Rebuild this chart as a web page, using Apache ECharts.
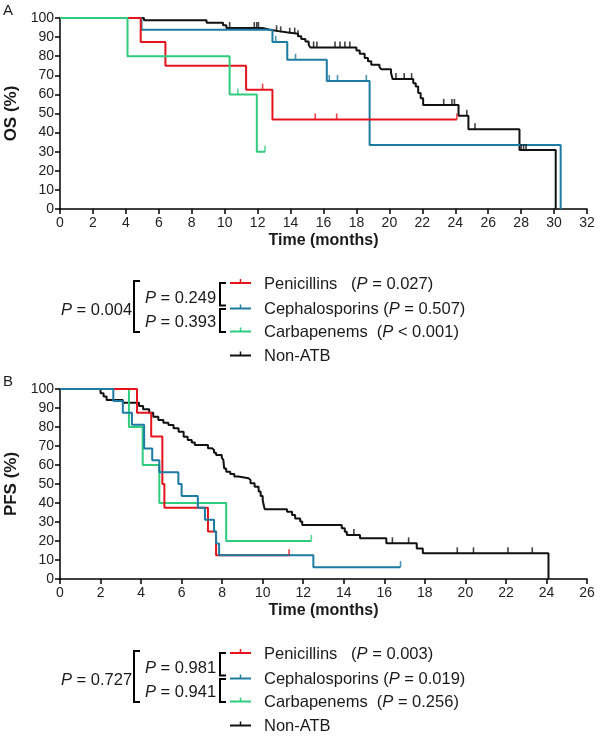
<!DOCTYPE html>
<html><head><meta charset="utf-8">
<script src="https://cdn.jsdelivr.net/npm/echarts@6/dist/echarts.min.js"></script>
<style>html,body{margin:0;padding:0;background:#fff}#c{width:600px;height:737px}</style>
</head><body><div id="c"></div>
<script>
// ---------- DATA ----------
const groups = ['Penicillins', 'Cephalosporins', 'Carbapenems', 'Non-ATB'];

// OS (panel A): [time (months), survival %] step points
const osPenicillins = [[0,100],[4.9,87.5],[6.4,75],[11.3,62.5],[12.9,46.9],[24.1,46.9]];
const osCephalosporins = [[0,100],[4.95,93.8],[12.9,87.5],[13.8,78.1],[16.2,67.0],[18.8,33.5],[30.4,0]];
const osCarbapenems = [[0,100],[4.1,80],[10.3,60],[11.95,30],[12.45,30]];
const osNonATB = [[0,100],[5.1,98.8],[8.9,97.5],[9.9,96.2],[10.1,94.8],[12.3,93.9],[12.75,93.0],[13.35,92.5],[13.75,91.8],[14.45,90.4],[14.65,89.0],[14.9,87.7],[15.1,86.0],[15.2,84.6],[18.0,83.0],[18.2,81.3],[18.5,79.0],[18.7,77.3],[18.9,75.5],[19.4,74.3],[19.5,73.2],[20.1,71.2],[20.2,68.0],[21.45,65.9],[21.6,64.1],[21.75,60.7],[21.9,58.0],[22.05,54.5],[24.2,48.8],[24.8,41.8],[27.9,30.9],[30.1,0]];
// censored times
const osPenicillinsCens = [12.3, 15.5, 16.8, 24.1];
const osCephalosporinsCens = [13.1, 14.3, 16.35, 16.85, 18.6];
const osCarbapenemsCens = [10.8, 12.45];
const osNonATBCens = [10.3, 11.8, 11.95, 12.05, 13.15, 13.4, 13.95, 14.25, 14.45, 15.4, 15.6, 16.7, 17.0, 17.3, 17.6, 20.4, 20.9, 21.35, 23.3, 23.8, 23.95, 24.7, 25.2, 28.0, 28.15, 28.3];

// PFS (panel B)
const pfsPenicillins = [[0,100],[3.8,87.5],[4.5,75],[5.05,50],[5.15,37.5],[7.3,25],[7.7,12.5],[11.3,12.5]];
const pfsCephalosporins = [[0,100],[2.63,93.75],[3.1,87.5],[3.55,81.25],[4.15,68.75],[4.55,62.5],[4.9,56.25],[5.84,50],[6.0,43.75],[6.8,37.5],[7.15,31.25],[7.6,25],[7.7,18.75],[7.85,12.5],[12.5,6.25],[16.8,6.25]];
const pfsCarbapenems = [[0,100],[3.4,80],[4.08,60],[4.9,40],[8.2,20],[12.4,20]];
const pfsNonATB = [[0,100],[2.0,97.7],[2.15,96.0],[2.3,94.2],[3.1,92.8],[3.9,91.0],[4.1,89.3],[4.4,87.5],[4.6,85.4],[4.85,83.7],[5.1,82.3],[5.35,81.0],[5.6,79.3],[5.85,77.5],[6.1,74.9],[6.3,73.2],[6.5,71.8],[6.65,70.5],[7.3,68.8],[7.5,67.9],[7.6,66.5],[7.7,65.3],[7.98,64.0],[8.06,62.6],[8.1,58.2],[8.2,56.5],[8.4,55.3],[8.6,53.9],[8.8,53.0],[9.3,52.1],[9.4,50.4],[9.6,48.6],[9.8,46.0],[9.9,43.7],[10.0,41.6],[10.05,38.9],[10.1,36.7],[11.2,35.4],[11.45,33.7],[11.6,31.9],[11.85,30.2],[11.95,28.4],[13.9,26.7],[14.05,24.9],[14.15,23.2],[14.8,21.4],[16.1,18.8],[17.6,16.1],[17.9,13.5],[24.1,0]];
const pfsPenicillinsCens = [11.3];
const pfsCephalosporinsCens = [16.8];
const pfsCarbapenemsCens = [12.4];
const pfsNonATBCens = [14.5, 16.4, 17.2, 19.6, 20.4, 22.1, 23.3];

// axis ranges / labels
const osXMax = 32, pfsXMax = 26, xInterval = 2, yMax = 100, yInterval = 10;
const osLegendP = ['0.027', '0.507', '< 0.001'];
const pfsLegendP = ['0.003', '0.019', '0.256'];
const osPairP = {all: '0.004', top: '0.249', bottom: '0.393'};
const pfsPairP = {all: '0.727', top: '0.981', bottom: '0.941'};

// ---------- STYLE ----------
const FONT = "'Liberation Sans', Arial, sans-serif";
const colors = ['#e5141c', '#1b7ba1', '#2fcc7e', '#111111'];
const TXT = '#1a1a1a';
const LFS = 16.5;

function valAt(steps, t) {
  let v = steps[0][1];
  for (const [x, y] of steps) { if (x <= t) v = y; else break; }
  return v;
}

function makeAxes(gi, xmax, yname) {
  const axLine = {show: true, lineStyle: {color: '#000', width: 1.5}};
  const axTick = {show: true, length: 5, lineStyle: {color: '#000', width: 1.5}};
  return {
    x: {type: 'value', gridIndex: gi, min: 0, max: xmax, interval: xInterval,
      axisLine: axLine, axisTick: axTick, splitLine: {show: false},
      axisLabel: {fontSize: 14, color: '#222', margin: 7, fontFamily: FONT},
      name: 'Time (months)', nameLocation: 'middle', nameGap: 24,
      nameTextStyle: {fontSize: 16, fontWeight: 'bold', color: TXT, fontFamily: FONT}},
    y: {type: 'value', gridIndex: gi, min: 0, max: yMax, interval: yInterval,
      axisLine: axLine, axisTick: axTick, splitLine: {show: false},
      axisLabel: {fontSize: 14, color: '#222', margin: 6, fontFamily: FONT},
      name: yname, nameLocation: 'middle', nameGap: 33,
      nameTextStyle: {fontSize: 17, fontWeight: 'bold', color: TXT, fontFamily: FONT}}
  };
}

function curveSeries(gi, steps, cens, color, name) {
  return [
    {type: 'line', name, xAxisIndex: gi, yAxisIndex: gi, data: steps, step: 'end',
     symbol: 'none', lineStyle: {color, width: 2}, itemStyle: {color}, z: 3, silent: true},
    {type: 'scatter', name, xAxisIndex: gi, yAxisIndex: gi,
     data: cens.map(t => [t, valAt(steps, t)]), symbol: 'rect', symbolSize: [1.6, 6],
     symbolOffset: [0, -3], itemStyle: {color}, z: 4, silent: true}
  ];
}

const a0 = makeAxes(0, osXMax, 'OS (%)');
const a1 = makeAxes(1, pfsXMax, 'PFS (%)');

const series = [
  ...curveSeries(0, osNonATB, osNonATBCens, colors[3], groups[3]),
  ...curveSeries(0, osCephalosporins, osCephalosporinsCens, colors[1], groups[1]),
  ...curveSeries(0, osPenicillins, osPenicillinsCens, colors[0], groups[0]),
  ...curveSeries(0, osCarbapenems, osCarbapenemsCens, colors[2], groups[2]),
  ...curveSeries(1, pfsNonATB, pfsNonATBCens, colors[3], groups[3]),
  ...curveSeries(1, pfsCarbapenems, pfsCarbapenemsCens, colors[2], groups[2]),
  ...curveSeries(1, pfsPenicillins, pfsPenicillinsCens, colors[0], groups[0]),
  ...curveSeries(1, pfsCephalosporins, pfsCephalosporinsCens, colors[1], groups[1])
];

// ---------- legend / annotation graphics ----------
const richI = {i: {fontStyle: 'italic', fontSize: LFS, fontFamily: FONT, fill: TXT}};
function pText(x, y, val) {
  return {type: 'text', x, y, style: {
    text: '{i|P} = ' + val,
    fontSize: LFS, fontFamily: FONT, fill: TXT, verticalAlign: 'middle', align: 'left', rich: richI
  }};
}
function line(x1, y1, x2, y2, color, w) {
  return {type: 'line', shape: {x1, y1, x2, y2}, style: {stroke: color, lineWidth: w}};
}
function bracket(x, y1, y2) {
  return {type: 'polyline', shape: {points: [[x + 6, y1], [x, y1], [x, y2], [x + 6, y2]]},
          style: {stroke: '#000', lineWidth: 2, fill: null}};
}
function legendBlock(dy, pair, pvals) {
  const g = [];
  g.push(pText(61, 310 + dy, pair.all));
  g.push(bracket(134, 281 + dy, 332 + dy));
  g.push(pText(145, 298 + dy, pair.top));
  g.push(pText(145, 322 + dy, pair.bottom));
  g.push(bracket(220, 283 + dy, 305.5 + dy));
  g.push(bracket(220, 309 + dy, 332 + dy));
  const ys = [283, 308.5, 331.5, 355.5];
  const labels = [groups[0] + '   (', groups[1] + ' (', groups[2] + '  (', groups[3]];
  ys.forEach((y, i) => {
    g.push(line(230, y + dy, 251, y + dy, colors[i], 2));
    g.push(line(240.5, y + dy, 240.5, y + dy - 4, colors[i], 1.5));
    if (i < 3) {
      const v = pvals[i];
      const isLt = v.startsWith('<');
      g.push({type: 'text', x: 264, y: y + dy + 1, style: {
        text: labels[i] + '{i|P} ' + (isLt ? v : '= ' + v) + ')',
        fontSize: LFS, fontFamily: FONT, fill: TXT, verticalAlign: 'middle', rich: richI}});
    } else {
      g.push({type: 'text', x: 264, y: y + dy + 1, style: {
        text: labels[i], fontSize: LFS, fontFamily: FONT, fill: TXT, verticalAlign: 'middle'}});
    }
  });
  return g;
}

const graphics = [
  {type: 'text', x: 3, y: 11, style: {text: 'A', fontSize: 15, fontFamily: FONT, fill: TXT, verticalAlign: 'middle'}},
  {type: 'text', x: 3, y: 382, style: {text: 'B', fontSize: 15, fontFamily: FONT, fill: TXT, verticalAlign: 'middle'}},
  ...legendBlock(0, osPairP, osLegendP),
  ...legendBlock(370, pfsPairP, pfsLegendP)
];

const chart = echarts.init(document.getElementById('c'), null, {renderer: 'canvas'});
chart.setOption({
  animation: false,
  backgroundColor: '#fff',
  grid: [
    {left: 60, top: 18, width: 527, height: 191, containLabel: false, outerBoundsMode: 'none'},
    {left: 60, top: 389, width: 527, height: 190, containLabel: false, outerBoundsMode: 'none'}
  ],
  xAxis: [a0.x, a1.x],
  yAxis: [a0.y, a1.y],
  series,
  graphic: graphics
});
</script></body></html>
